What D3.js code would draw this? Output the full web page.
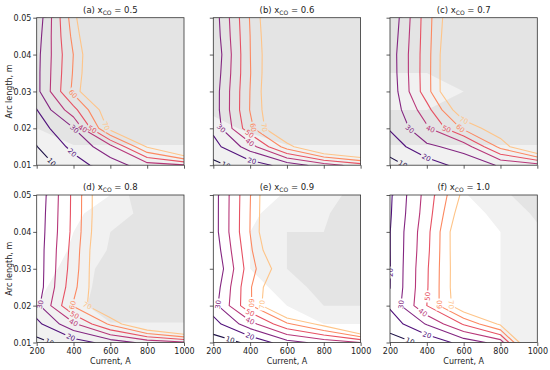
<!DOCTYPE html>
<html>
<head>
<meta charset="utf-8">
<script src="https://cdn.jsdelivr.net/npm/d3@7"></script>
<style>
  body { margin: 0; background: #fff; }
  text { font-family: "DejaVu Sans", sans-serif; }
</style>
</head>
<body>
<div id="chart"></div>
<script>
// grid of the simulation: current (A) x arc length (m)
const currents = [200, 400, 600, 800, 1000]
const arcLengths = [0.01, 0.015, 0.02, 0.025, 0.03, 0.035, 0.04, 0.045, 0.05]
const levels = [10, 20, 30, 40, 50, 60, 70]
const shadeLevels = [1, 2]
const xTicks = [200, 400, 600, 800, 1000]
const yTicks = [0.01, 0.02, 0.03, 0.04, 0.05]
const panelTags = ["(a)", "(b)", "(c)", "(d)", "(e)", "(f)"]
const xCO = ["0.5", "0.6", "0.7", "0.8", "0.9", "1.0"]

// contoured quantity, rows = arc length (0.01 -> 0.05), cols = current
const effA = [
  [4.7, 15.7, 25.3, 35, 39],
  [9.7, 22.6, 36.5, 71, 100],
  [14.7, 29.6, 74, 100, 130],
  [19.7, 46.5, 80, 115, 140],
  [26.9, 62.5, 105, 125, 145],
  [27, 61, 100, 128, 148],
  [26.7, 60.2, 99, 130, 150],
  [25, 63, 105, 135, 155],
  [22.7, 65.7, 116, 140, 160]
]
const effB = [
  [7.5, 14.8, 24, 35, 45],
  [16, 34.8, 65, 91, 105],
  [22.5, 57, 90, 110, 125],
  [24, 60.5, 90, 115, 130],
  [24, 60.2, 93, 118, 135],
  [22.5, 59.5, 92, 120, 138],
  [21, 59.8, 91, 122, 140],
  [23, 60, 93, 125, 142],
  [24, 60.7, 95, 128, 145]
]
const effC = [
  [7, 14.5, 24, 31, 35.5],
  [13.9, 28, 33.5, 63, 90],
  [21, 38.4, 62, 78.5, 110],
  [22.8, 46, 80, 95, 120],
  [23, 55.8, 95, 110, 130],
  [24, 56, 95, 115, 135],
  [24.3, 55.8, 95, 118, 138],
  [23, 55.5, 92, 122, 140],
  [21.5, 55.3, 89.5, 125, 145]
]
const effD = [
  [7, 15, 24, 33, 38],
  [17, 38, 62, 88, 110],
  [27, 61, 85, 105, 125],
  [24, 57, 88, 110, 130],
  [24, 55, 90, 115, 135],
  [24, 54, 90, 118, 138],
  [23.5, 52.8, 88, 120, 140],
  [23, 52.5, 87, 122, 142],
  [22.2, 52.4, 87, 125, 145]
]
const effE = [
  [5.5, 11.7, 26, 33.5, 40],
  [15.7, 36, 58, 74, 105],
  [25.9, 58.5, 94.5, 100, 125],
  [23.3, 58.8, 90, 110, 130],
  [20, 56, 80, 115, 135],
  [23, 58, 92, 118, 138],
  [25.2, 60.2, 100, 120, 140],
  [25.2, 60, 99, 122, 142],
  [25.2, 59.6, 98.8, 125, 145]
]
const effF = [
  [6, 12.2, 24, 34, 104],
  [14, 30.8, 51, 72, 120],
  [21.5, 50, 80, 95, 130],
  [19.9, 49, 82, 105, 135],
  [19.7, 48.7, 82, 110, 138],
  [19.8, 47.5, 83, 115, 140],
  [19.8, 46.8, 83.5, 118, 142],
  [19, 45, 78, 120, 145],
  [18.5, 43.9, 73, 122, 148]
]

// grey background field (below 1 white, 1-2 light, above 2 darker)
const shadeA = [
  [1.2, 1.2, 1.2, 1.2, 1.2],
  [1.5, 1.95, 1.95, 1.95, 1.95],
  [2.0, 2.5, 2.5, 2.5, 2.5],
  [2.5, 2.5, 2.5, 2.5, 2.5],
  [2.5, 2.5, 2.5, 2.5, 2.5],
  [2.5, 2.5, 2.5, 2.5, 2.5],
  [2.5, 2.5, 2.5, 2.5, 2.5],
  [2.5, 2.5, 2.5, 2.5, 2.5],
  [2.5, 2.5, 2.5, 2.5, 2.5]
]
const shadeB = [
  [1.2, 1.2, 1.2, 1.2, 1.2],
  [1.5, 1.7, 1.95, 1.95, 1.95],
  [1.8, 2.1, 2.5, 2.5, 2.5],
  [2.1, 2.5, 2.5, 2.5, 2.5],
  [2.5, 2.5, 2.5, 2.5, 2.5],
  [2.5, 2.5, 2.5, 2.5, 2.5],
  [2.5, 2.5, 2.5, 2.5, 2.5],
  [2.5, 2.5, 2.5, 2.5, 2.5],
  [2.5, 2.5, 2.5, 2.5, 2.5]
]
const shadeC = [
  [1.2, 1.2, 1.2, 1.2, 1.2],
  [1.95, 1.95, 1.95, 1.95, 1.95],
  [2.5, 2.5, 2.5, 2.5, 2.5],
  [2.0, 2.0, 2.5, 2.5, 2.5],
  [1.5, 1.5, 2.0, 2.5, 2.5],
  [2.0, 2.0, 2.5, 2.5, 2.5],
  [2.5, 2.5, 2.5, 2.5, 2.5],
  [2.5, 2.5, 2.5, 2.5, 2.5],
  [2.5, 2.5, 2.5, 2.5, 2.5]
]
const shadeD = [
  [1.2, 1.2, 1.2, 1.2, 1.2],
  [1.2, 1.5, 1.95, 1.95, 1.95],
  [1.0, 1.7, 2.5, 2.5, 2.5],
  [0.8, 1.5, 2.5, 2.5, 2.5],
  [0.6, 1.3, 2.5, 2.5, 2.5],
  [0.5, 1.1, 2.1, 2.5, 2.5],
  [0.4, 1.0, 2.0, 2.5, 2.5],
  [0.3, 0.8, 1.5, 2.3, 2.5],
  [0.2, 0.6, 1.0, 3.0, 3.0]
]
const shadeE = [
  [0.5, 0.5, 0.5, 0.5, 0.5],
  [0.5, 0.5, 0.6, 1.0, 1.0],
  [0.5, 0.6, 1.0, 2.0, 2.0],
  [0.5, 0.6, 1.4, 2.5, 2.5],
  [0.5, 1.0, 2.0, 2.5, 2.5],
  [0.5, 1.0, 2.0, 2.5, 2.5],
  [0.5, 1.0, 2.0, 2.0, 2.5],
  [0.5, 0.8, 1.5, 1.9, 2.5],
  [0.5, 0.5, 1.1, 1.5, 2.5]
]
const shadeF = [
  [0.5, 0.5, 0.5, 1.0, 1.3],
  [0.5, 0.5, 0.5, 1.0, 1.3],
  [0.5, 0.5, 0.5, 1.0, 1.3],
  [0.5, 0.5, 0.5, 1.0, 1.3],
  [0.5, 0.5, 0.5, 1.0, 1.3],
  [0.5, 0.5, 0.5, 1.0, 1.4],
  [0.5, 0.5, 0.5, 1.0, 1.8],
  [0.5, 0.5, 0.7, 1.2, 2.2],
  [0.5, 0.5, 0.9, 1.8, 2.5]
]

// inline labels: [level, current, arc length] near where each one sits
const labelsA = [[10, 272, 0.0104], [20, 385, 0.0130], [30, 390, 0.0190], [40, 450, 0.0199], [50, 505, 0.0200], [60, 399, 0.0294], [70, 607, 0.0213]]
const labelsB = [[10, 273, 0.0104], [20, 408, 0.0108], [30, 236, 0.0199], [40, 400, 0.0163], [50, 400, 0.0187], [60, 427, 0.0203], [70, 486, 0.0203]]
const labelsC = [[10, 272, 0.0104], [20, 399, 0.0122], [30, 309, 0.0199], [40, 420, 0.0199], [50, 508, 0.0199], [60, 580, 0.0199], [70, 603, 0.0224]]
const labelsD = [[10, 272, 0.0104], [20, 390, 0.0120], [30, 222, 0.0203], [40, 399, 0.0153], [50, 403, 0.0171], [60, 381, 0.0203], [70, 435, 0.0198]]
const labelsE = [[10, 290, 0.0104], [20, 399, 0.0117], [30, 227, 0.0203], [40, 399, 0.0158], [50, 399, 0.0180], [60, 408, 0.0207], [70, 462, 0.0203]]
const labelsF = [[10, 309, 0.0104], [20, 399, 0.0117], [20, 202, 0.0290], [30, 263, 0.0203], [40, 363, 0.0171], [50, 399, 0.0225], [60, 468, 0.0203], [70, 535, 0.0203]]

const fields = [effA, effB, effC, effD, effE, effF]
const shades = [shadeA, shadeB, shadeC, shadeD, shadeE, shadeF]
const labelSets = [labelsA, labelsB, labelsC, labelsD, labelsE, labelsF]

const W = 147.3, H = 147.5
const LEFTS = [36.7, 213.3, 390]
const TOPS = [17.7, 195]
const shadeColors = ["#f1f1f1", "#e4e4e4"]
const levelColor = v => d3.interpolateMagma(v / 80)

const svg = d3.select("#chart").append("svg")
  .attr("width", 550)
  .attr("height", 370)
const defs = svg.append("defs")

const nx = currents.length, ny = arcLengths.length

// clip a segment to the plot box (Liang-Barsky)
function clipSeg(a, b) {
  let t0 = 0, t1 = 1
  const dx = b[0] - a[0], dy = b[1] - a[1]
  const p = [-dx, dx, -dy, dy], q = [a[0], W - a[0], a[1], H - a[1]]
  for (let i = 0; i < 4; i++) {
    if (p[i] === 0) { if (q[i] < 0) return null; continue }
    const r = q[i] / p[i]
    if (p[i] < 0) { if (r > t1) return null; if (r > t0) t0 = r }
    else { if (r < t0) return null; if (r < t1) t1 = r }
  }
  return [[a[0] + t0 * dx, a[1] + t0 * dy], [a[0] + t1 * dx, a[1] + t1 * dy]]
}

panelTags.forEach((tag, k) => {
  const col = k % 3, row = Math.floor(k / 3)
  const x = d3.scaleLinear().domain(d3.extent(currents)).range([0, W])
  const y = d3.scaleLinear().domain(d3.extent(arcLengths)).range([H, 0])
  // contour grid coords -> pixels (node i sits at i + 0.5)
  const gx = d3.scaleLinear().domain([0.5, nx - 0.5]).range([x(currents[0]), x(currents[nx - 1])])
  const gy = d3.scaleLinear().domain([0.5, ny - 0.5]).range([y(arcLengths[0]), y(arcLengths[ny - 1])])
  const path = d3.geoPath(d3.geoTransform({
    point(a, b) { this.stream.point(gx(a), gy(b)) }
  }))

  const g = svg.append("g").attr("transform", `translate(${LEFTS[col]},${TOPS[row]})`)

  defs.append("clipPath").attr("id", "clip" + k)
    .append("rect").attr("width", W).attr("height", H)

  const plot = g.append("g").attr("clip-path", `url(#clip${k})`)
  plot.append("rect").attr("width", W).attr("height", H).attr("fill", "#fff")

  // grey background
  const shadeContours = d3.contours().size([nx, ny]).thresholds(shadeLevels)(shades[k].flat())
  plot.append("g").selectAll("path")
    .data(shadeContours)
    .join("path")
      .attr("d", path)
      .attr("fill", (d, i) => shadeColors[i])
      .attr("stroke", "none")

  // contour lines
  const lineContours = d3.contours().size([nx, ny]).thresholds(levels)(fields[k].flat())

  // label placement: nearest point on the contour to the wanted position
  const labels = []
  labelSets[k].forEach(([lv, cx, cy]) => {
    const c = lineContours.find(d => d.value === lv)
    const target = [x(cx), y(cy)]
    let best = null
    c.coordinates.forEach(poly => poly.forEach(ring => {
      for (let i = 1; i < ring.length; i++) {
        const seg = clipSeg([gx(ring[i - 1][0]), gy(ring[i - 1][1])], [gx(ring[i][0]), gy(ring[i][1])])
        if (!seg) continue
        const [a, b] = seg
        const dx = b[0] - a[0], dy = b[1] - a[1], L2 = dx * dx + dy * dy
        if (L2 < 1e-6) continue
        let t = ((target[0] - a[0]) * dx + (target[1] - a[1]) * dy) / L2
        t = Math.max(0, Math.min(1, t))
        const px = a[0] + t * dx, py = a[1] + t * dy
        const d = (px - target[0]) ** 2 + (py - target[1]) ** 2
        if (!best || d < best.d) best = { d, px, py, ang: Math.atan2(dy, dx) * 180 / Math.PI }
      }
    }))
    if (best && best.d < 400) {
      let ang = best.ang
      if (ang > 90) ang -= 180
      if (ang < -90) ang += 180
      labels.push({ value: lv, x: best.px, y: best.py, ang })
    }
  })

  const mask = defs.append("mask").attr("id", "lm" + k)
    .attr("maskUnits", "userSpaceOnUse")
    .attr("x", -10).attr("y", -10).attr("width", W + 20).attr("height", H + 20)
  mask.append("rect").attr("x", -10).attr("y", -10).attr("width", W + 20).attr("height", H + 20).attr("fill", "#fff")
  mask.selectAll("rect.hole")
    .data(labels)
    .join("rect")
      .attr("class", "hole")
      .attr("x", -6).attr("y", -3.4).attr("width", 12).attr("height", 6.8)
      .attr("transform", d => `translate(${d.x},${d.y}) rotate(${d.ang})`)
      .attr("fill", "#000")

  plot.append("g").attr("mask", `url(#lm${k})`)
    .selectAll("path")
    .data(lineContours)
    .join("path")
      .attr("d", path)
      .attr("fill", "none")
      .attr("stroke", d => levelColor(d.value))
      .attr("stroke-width", 1.1)
      .attr("stroke-linejoin", "round")

  plot.append("g").selectAll("text")
    .data(labels)
    .join("text")
      .attr("transform", d => `translate(${d.x},${d.y}) rotate(${d.ang})`)
      .attr("text-anchor", "middle")
      .attr("dy", "0.36em")
      .attr("font-size", 7)
      .attr("fill", d => levelColor(d.value))
      .text(d => d.value)

  // axes
  const xAxis = d3.axisBottom(x).tickValues(xTicks).tickSize(3.5).tickPadding(2)
    .tickFormat(row === 1 ? d3.format("d") : () => "")
  const yAxis = d3.axisLeft(y).tickValues(yTicks).tickSize(3.5).tickPadding(1.8)
    .tickFormat(col === 0 ? d3.format(".2f") : () => "")

  const xg = g.append("g").attr("transform", `translate(0,${H})`).call(xAxis)
  const yg = g.append("g").call(yAxis)
  ;[xg, yg].forEach(a => {
    a.select(".domain").remove()
    a.selectAll(".tick line").attr("stroke", "#333").attr("stroke-width", 0.8)
    a.selectAll(".tick text").attr("font-size", 8).attr("fill", "#222")
      .attr("font-family", "DejaVu Sans, sans-serif")
  })

  g.append("rect")
    .attr("width", W).attr("height", H)
    .attr("fill", "none")
    .attr("stroke", "#333")
    .attr("stroke-width", 0.8)

  // title
  const title = g.append("text")
    .attr("x", W / 2).attr("y", -5)
    .attr("text-anchor", "middle")
    .attr("font-size", 8.5)
    .attr("fill", "#222")
  title.append("tspan").text(`${tag} x`)
  title.append("tspan").attr("font-size", 6).attr("dy", 2).text("CO")
  title.append("tspan").attr("dy", -2).text(` = ${xCO[k]}`)

  if (col === 0) {
    g.append("text")
      .attr("transform", `translate(${12.3 - LEFTS[0]},${H / 2}) rotate(-90)`)
      .attr("text-anchor", "middle")
      .attr("font-size", 8)
      .attr("fill", "#222")
      .text("Arc length, m")
  }
  if (row === 1) {
    g.append("text")
      .attr("x", W / 2).attr("y", H + 21.5)
      .attr("text-anchor", "middle")
      .attr("font-size", 8)
      .attr("fill", "#222")
      .text("Current, A")
  }
})
</script>
</body>
</html>
